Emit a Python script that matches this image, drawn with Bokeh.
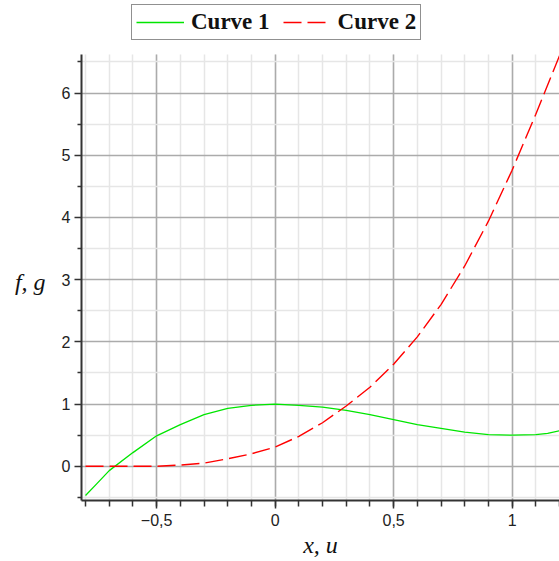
from bokeh.plotting import figure
from bokeh.models import FixedTicker, Legend, LegendItem, Range1d
from bokeh.embed import file_html
from bokeh.resources import INLINE

# Curve 1 (green, solid)
x1 = [-0.8, -0.75, -0.7, -0.6, -0.5, -0.4, -0.3, -0.2, -0.1, 0.0, 0.1, 0.2, 0.3,
      0.4, 0.5, 0.6, 0.7, 0.8, 0.9, 1.0, 1.1, 1.15, 1.2]
y1 = [-0.47, -0.27, -0.07, 0.22, 0.49, 0.67, 0.83, 0.93, 0.98, 1.0, 0.98, 0.95, 0.90,
      0.83, 0.75, 0.67, 0.61, 0.55, 0.51, 0.50, 0.51, 0.53, 0.57]

# Curve 2 (red, dashed)
x2 = [-0.8, -0.7, -0.6, -0.5, -0.4, -0.3, -0.2, -0.1, 0.0, 0.1, 0.2, 0.3, 0.4,
      0.5, 0.6, 0.7, 0.8, 0.9, 1.0, 1.1, 1.2]
y2 = [0.0, 0.0, 0.0, 0.0, 0.02, 0.05, 0.12, 0.2, 0.31, 0.48, 0.70, 0.97, 1.27,
      1.64, 2.08, 2.6, 3.22, 3.94, 4.76, 5.66, 6.6]

series_names = ["Curve 1", "Curve 2"]

x_major = [-0.5, 0.0, 0.5, 1.0]
x_major_labels = ["\u22120,5", "0", "0,5", "1"]
x_minor = [-0.8, -0.7, -0.6, -0.5, -0.4, -0.3, -0.2, -0.1, 0.0, 0.1, 0.2, 0.3, 0.4,
           0.5, 0.6, 0.7, 0.8, 0.9, 1.0, 1.1, 1.2]
y_major = [0, 1, 2, 3, 4, 5, 6]
y_minor = [-0.5, 0.5, 1.5, 2.5, 3.5, 4.5, 5.5, 6.5]

y_lo, y_hi = -0.55, 6.62          # visible data extent of the plot box
y_top = 7.488                      # extra headroom above the box for the legend

p = figure(width=559, height=561, output_backend="svg", toolbar_location=None,
           x_range=Range1d(-0.817, 1.2), y_range=Range1d(y_lo, y_top),
           min_border_left=81, min_border_right=0, min_border_top=0,
           min_border_bottom=61)
p.outline_line_color = None
p.background_fill_color = "white"
p.border_fill_color = "white"

r1 = p.line(x1, y1, line_color="#00e600", line_width=1.3)
r2 = p.line(x2, y2, line_color="#ff0000", line_width=1.4, line_dash="18 6")

xt = FixedTicker(ticks=x_major, minor_ticks=x_minor)
yt = FixedTicker(ticks=y_major, minor_ticks=y_minor)
p.xaxis.ticker = xt
p.yaxis.ticker = yt
p.xgrid.ticker = xt
p.ygrid.ticker = yt
p.xaxis.major_label_overrides = {v: s for v, s in zip(x_major, x_major_labels)}
p.yaxis.bounds = (y_lo, y_hi)
p.xgrid.cross_bounds = (y_lo, y_hi)

for g in (p.xgrid, p.ygrid):
    g.grid_line_color = "#ababab"
    g.grid_line_width = 1.5
    g.minor_grid_line_color = "#e6e6e6"
    g.minor_grid_line_width = 1.5

for ax in (p.xaxis, p.yaxis):
    ax.axis_line_color = "#333333"
    ax.axis_line_width = 2
    ax.major_tick_line_color = "#333333"
    ax.minor_tick_line_color = "#333333"
    ax.major_tick_line_width = 1.5
    ax.minor_tick_line_width = 1.5
    ax.major_tick_in = 0
    ax.minor_tick_in = 0
    ax.major_label_text_font = "Liberation Sans"
    ax.major_label_text_font_size = "16px"
    ax.major_label_text_color = "#222222"
    ax.axis_label_text_font = "Liberation Serif"
    ax.axis_label_text_font_style = "italic"
    ax.axis_label_text_font_size = "24px"
    ax.axis_label_text_color = "#111111"

p.xaxis.major_tick_out = 8
p.xaxis.minor_tick_out = 6
p.xaxis.major_label_standoff = 5
p.xaxis.axis_label = "x, u"
p.xaxis.axis_label_standoff = 3

p.yaxis.major_tick_out = 7
p.yaxis.minor_tick_out = 4
p.yaxis.major_label_standoff = 4
p.yaxis.axis_label = "\n\nf, g"
p.yaxis.axis_label_orientation = "horizontal"
p.yaxis.axis_label_standoff = 13

legend = Legend(items=[LegendItem(label=series_names[0], renderers=[r1]),
                       LegendItem(label=series_names[1], renderers=[r2])],
                orientation="horizontal", location=(50, 460), margin=0,
                padding=4, spacing=13, glyph_width=48, glyph_height=20,
                label_standoff=7,
                label_text_font="Liberation Serif", label_text_font_style="bold",
                label_text_font_size="23px", label_text_color="#111111",
                border_line_color="#222222", border_line_width=1.5,
                background_fill_color="white", background_fill_alpha=1.0)
p.add_layout(legend, "center")

open("out.html", "w").write(file_html(p, INLINE))
